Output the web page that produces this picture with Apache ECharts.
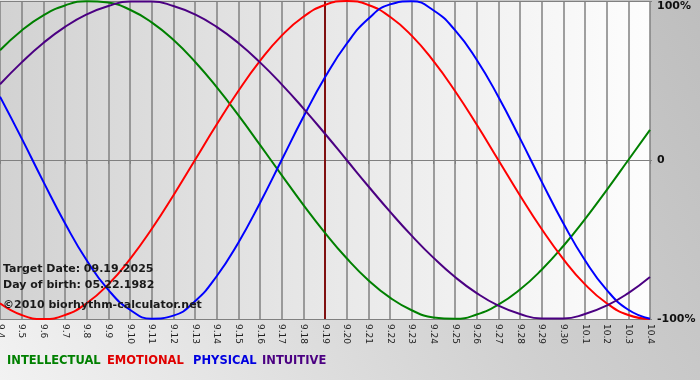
<!DOCTYPE html>
<html><head><meta charset="utf-8">
<script src="https://cdn.jsdelivr.net/npm/echarts@6/dist/echarts.min.js"></script>
<style>html,body{margin:0;padding:0;}#c{width:700px;height:380px;}</style>
</head><body><div id="c"></div>
<script>
var days = ['9.4','9.5','9.6','9.7','9.8','9.9','9.10','9.11','9.12','9.13','9.14','9.15','9.16','9.17','9.18','9.19','9.20','9.21','9.22','9.23','9.24','9.25','9.26','9.27','9.28','9.29','9.30','10.1','10.2','10.3','10.4'];
var intellectual = [0.690,0.815,0.910,0.972,0.999,0.990,0.945,0.866,0.756,0.618,0.458,0.282,0.095,-0.095,-0.282,-0.458,-0.618,-0.756,-0.866,-0.945,-0.990,-0.999,-0.972,-0.910,-0.815,-0.690,-0.541,-0.372,-0.189,0,0.189];
var emotional = [-0.901,-0.975,-1,-0.975,-0.901,-0.782,-0.623,-0.434,-0.223,0,0.223,0.434,0.623,0.782,0.901,0.975,1,0.975,0.901,0.782,0.623,0.434,0.223,0,-0.223,-0.434,-0.623,-0.782,-0.901,-0.975,-1];
var physical = [0.398,0.136,-0.136,-0.398,-0.631,-0.817,-0.942,-0.998,-0.979,-0.888,-0.731,-0.520,-0.270,0,0.270,0.520,0.731,0.888,0.979,0.998,0.942,0.817,0.631,0.398,0.136,-0.136,-0.398,-0.631,-0.817,-0.942,-0.998];
var intuitive = [0.476,0.614,0.736,0.837,0.916,0.969,0.997,0.997,0.969,0.916,0.837,0.736,0.614,0.476,0.325,0.165,0,-0.165,-0.325,-0.476,-0.614,-0.736,-0.837,-0.916,-0.969,-0.997,-0.997,-0.969,-0.916,-0.837,-0.736];
var targetDay = '9.19';
var yTicks = {'1':'100%','0':'0','-1':'-100%'};
var infoLines = ['Target Date: 09.19.2025','Day of birth: 05.22.1982','\u00a92010 biorhythm-calculator.net'];
var legendNames = ['INTELLECTUAL','EMOTIONAL','PHYSICAL','INTUITIVE'];

var colors = ['#008000','#ff0000','#0000ff','#4b0082'];
var legendColors = ['#008000','#e00000','#0000e0','#4b0082'];
var legendX = [7,107,193,262];
var infoY = [271,287,307];

var chart = echarts.init(document.getElementById('c'), null, {renderer:'canvas'});
var FONT = '"DejaVu Sans", Verdana, sans-serif';
function line(name, data, color){
  return {name:name, type:'line', data:data, smooth:true, symbol:'none',
    lineStyle:{color:color, width:2}, itemStyle:{color:color}, z:3};
}
var series = [
  line('INTELLECTUAL', intellectual, colors[0]),
  line('EMOTIONAL', emotional, colors[1]),
  line('PHYSICAL', physical, colors[2]),
  line('INTUITIVE', intuitive, colors[3])
];
series[0].markLine = {silent:true, symbol:'none', label:{show:false}, z:2,
  lineStyle:{color:'#801010', width:2, type:'solid'}, data:[{xAxis:targetDay}]};

var graphic = [];
infoLines.forEach(function(t,i){
  graphic.push({type:'text', left:3, top:infoY[i]-7, z:10,
    style:{text:t, font:'bold 11px '+FONT, fill:'#1a1a1a'}});
});
legendNames.forEach(function(t,i){
  graphic.push({type:'text', left:legendX[i], top:355, z:10,
    style:{text:t, font:'bold 11.5px '+FONT, fill:legendColors[i]}});
});

chart.setOption({
  animation:false,
  backgroundColor:{type:'linear', x:0, y:1, x2:1, y2:0, colorStops:[{offset:0,color:'#f2f2f2'},{offset:0.6,color:'#d0d0d0'},{offset:1,color:'#bebebe'}]},
  grid:{left:0, right:50, top:1, bottom:61, show:true, borderWidth:0, containLabel:false, outerBoundsMode:'none',
    backgroundColor:{type:'linear', x:0, y:0, x2:1, y2:0, colorStops:[{offset:0,color:'#d2d2d2'},{offset:0.5,color:'#e8e8e8'},{offset:1,color:'#fdfdfd'}]}},
  xAxis:{type:'category', data:days, boundaryGap:false,
    axisLine:{show:true, lineStyle:{color:'#808080', width:1}},
    axisTick:{show:true, length:4, lineStyle:{color:'#808080'}},
    splitLine:{show:true, lineStyle:{color:'#808080', width:1.5}},
    axisLabel:{rotate:-90, margin:5, fontSize:9, fontFamily:FONT, color:'#222', interval:0}},
  yAxis:{type:'value', position:'right', min:-1, max:1, interval:1,
    axisLine:{show:false}, axisTick:{show:true, length:2, lineStyle:{color:'#808080'}},
    splitLine:{show:true, lineStyle:{color:'#808080', width:1}},
    axisLabel:{margin:7, fontSize:11, fontWeight:'bold', fontFamily:FONT, color:'#111',
      formatter:function(v){ return v === 1 ? '{t|' + yTicks[String(v)] + '}' : yTicks[String(v)]; },
      rich:{t:{fontSize:11, fontWeight:'bold', fontFamily:FONT, color:'#111', padding:[11,0,0,0]}}}},
  graphic:graphic,
  series:series
});
</script></body></html>
